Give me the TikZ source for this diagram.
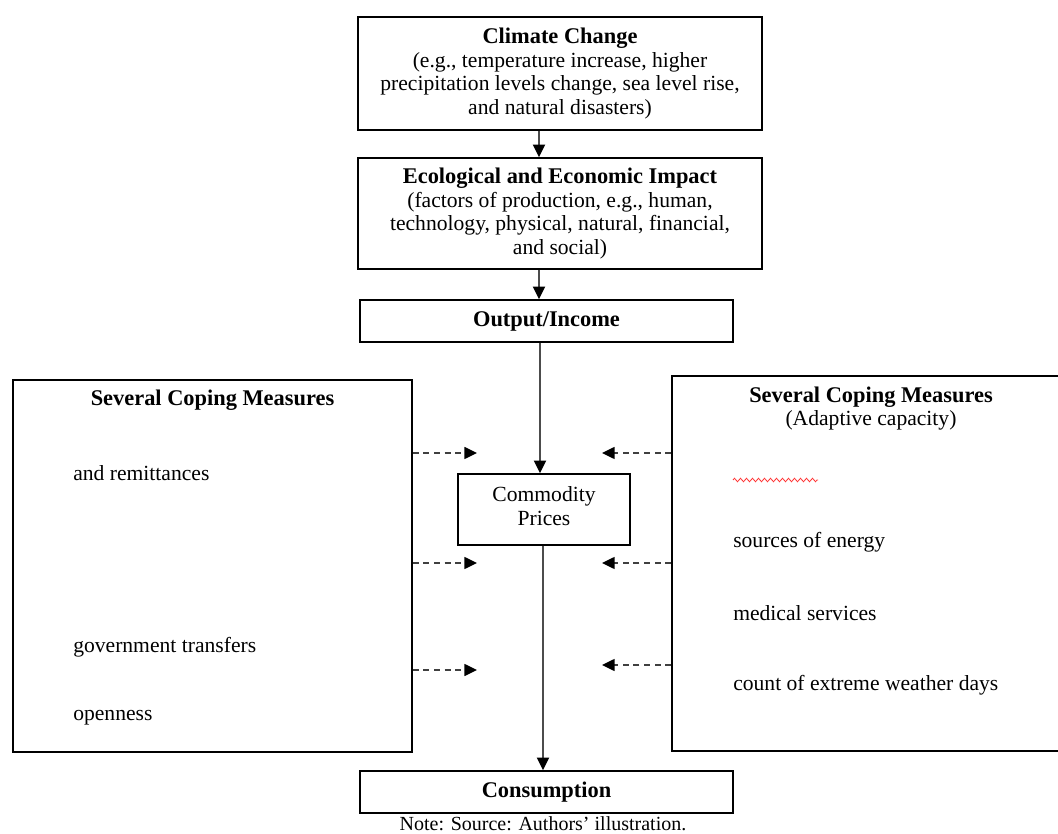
\documentclass[tikz,border=0pt]{standalone}
\usepackage{fontspec}
\setmainfont{Liberation Serif}
\usetikzlibrary{arrows.meta,fit,decorations.pathmorphing}
\newcommand{\boldset}{\fontsize{16.8}{17.6}\selectfont\bfseries}
\begin{document}
\begin{tikzpicture}[x=0.75pt,y=-0.75pt,
  box/.style={draw=black, line width=1.1pt, inner sep=0pt},
  txt/.style={inner sep=0pt, font=\fontsize{16.2}{17.6}\selectfont},
  bld/.style={inner sep=0pt, font=\boldset},
  flow/.style={draw=black!70, line width=1.4pt, -{Triangle[width=9pt,length=9.5pt,color=black,fill=black]}},
  dasharrow/.style={draw=black!75, line width=1.1pt, dash pattern=on 4.5pt off 3.5pt, -{Triangle[width=9pt,length=9.5pt,color=black,fill=black]}},
  squiggle/.style={draw=red!80, line width=0.6pt, decorate, decoration={zigzag, segment length=4.5pt, amplitude=1.3pt}}
]
\useasboundingbox (0,0) rectangle (1058,834);
\fill[white] (0,0) rectangle (1058,834);

% boxes
\node[box, fit={(358,17)(762,130)}] (clim) {};
\node[box, fit={(358,158)(762,269)}] (eco) {};
\node[box, fit={(360,300)(733,342)}] (out) {};
\node[box, fit={(13,380)(412,752)}] (left) {};
\node[box, fit={(672,376)(1075,751)}] (right) {};
\node[box, fit={(458,474)(630,545)}] (comm) {};
\node[box, fit={(360,771)(733,813)}] (cons) {};

% box texts
\node[txt, align=center] (climtxt) at (clim.center) {{\boldset Climate Change}\\(e.g., temperature increase, higher\\precipitation levels change, sea level rise,\\and natural disasters)};
\node[txt, align=center] (ecotxt) at (eco.center) {{\boldset Ecological and Economic Impact}\\(factors of production, e.g., human,\\technology, physical, natural, financial,\\and social)};
\node[bld] (outtxt) at (out.center) {Output/Income};
\node[txt, align=center] (commtxt) at (544,506) {Commodity\\Prices};
\node[bld] (constxt) at (cons.center) {Consumption};

% left box
\node[bld] (ltitle) at (212.5,400) {Several Coping Measures};
\node[txt, anchor=west] (l_a) at (73,473) {and remittances};
\node[txt, anchor=west] (l_b) at (73,647) {government transfers};
\node[txt, anchor=west] (l_c) at (73,718) {openness};

% right box
\node[bld] (rtitle) at (871,397) {Several Coping Measures};
\node[txt] (rsub) at (871,420) {(Adaptive capacity)};
\coordinate (sq1) at (733,480);
\coordinate (sq2) at (818,480);
\draw[squiggle] (sq1) -- (sq2);
\node[txt, anchor=west] (r_a) at (733,542) {sources of energy};
\node[txt, anchor=west] (r_b) at (733,613) {medical services};
\node[txt, anchor=west] (r_c) at (733,685) {count of extreme weather days};

% note
\node[inner sep=0pt, font=\fontsize{15}{17}\selectfont] (note) at (543,824) {Note: Source: Authors’ illustration.};

% main flow
\coordinate (a1) at (539,0);
\coordinate (a2) at (540,0);
\coordinate (a3) at (543,0);
\draw[flow] (clim.south -| a1) -- (eco.north -| a1);
\draw[flow] (eco.south -| a1) -- (out.north -| a1);
\draw[flow] (out.south -| a2) -- (comm.north -| a2);
\draw[flow] (comm.south -| a3) -- (cons.north -| a3);

% dashed arrows
\coordinate (l1) at (477,453);
\coordinate (l2) at (477,563);
\coordinate (l3) at (477,670);
\coordinate (r1) at (602,453);
\coordinate (r2) at (602,563);
\coordinate (r3) at (602,665);
\draw[dasharrow] (left.east |- l1) -- (l1);
\draw[dasharrow] (left.east |- l2) -- (l2);
\draw[dasharrow] (left.east |- l3) -- (l3);
\draw[dasharrow] (right.west |- r1) -- (r1);
\draw[dasharrow] (right.west |- r2) -- (r2);
\draw[dasharrow] (right.west |- r3) -- (r3);
\end{tikzpicture}
\end{document}
